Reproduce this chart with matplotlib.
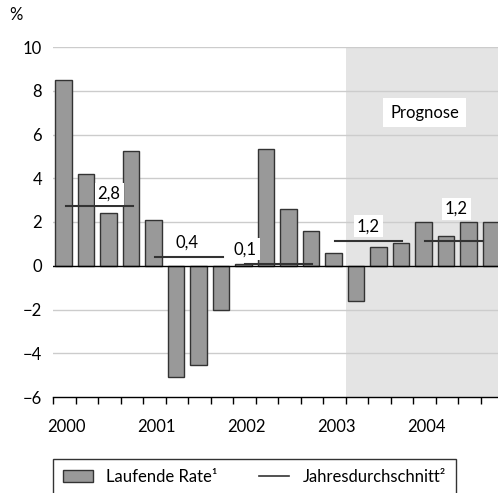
import matplotlib
matplotlib.use('Agg')
import matplotlib.pyplot as plt
from matplotlib.patches import Patch
from matplotlib.lines import Line2D
import numpy as np

plt.rcParams['font.family'] = ['Lato', 'DejaVu Sans']
plt.rcParams['font.size'] = 12

# DATA
years = ['2000', '2001', '2002', '2003', '2004']
rate = [8.5, 4.2, 2.4, 5.25, 2.1, -5.07, -4.55, -2.03, 0.1, 5.33,
        2.6, 1.57, 0.6, -1.6, 0.84, 1.05, 1.98, 1.35, 1.98, 1.98]
avg = [2.75, 0.4, 0.1, 1.15, 1.15]
avg_text = ['2,8', '0,4', '0,1', '1,2', '1,2']
avg_from = [0.55, 4.5, 8.5, 12.5, 16.5]
avg_to = [3.55, 7.55, 11.5, 15.5, 19.1]
label_x = [2.48, 5.93, 8.52, 14.0, 17.9]
label_y = [3.3, 1.05, 0.75, 1.8, 2.6]
forecast_start = 13

W, H = 498, 493
fig = plt.figure(figsize=(W / 100, H / 100), dpi=100)
ax = fig.add_axes([53.3 / W, 1 - 397 / H, 450 / W, 350 / H])

# forecast shading
ax.axvspan(forecast_start, 20, color='#e4e4e4', zorder=0, lw=0)

# grid
for g in range(-4, 11, 2):
    if g != 0:
        ax.axhline(g, color='#cccccc', lw=1, zorder=1)
ax.axhline(0, color='black', lw=1, zorder=4)

# bars
q = np.arange(len(rate))
ax.bar(q + 0.08, rate, width=0.74, align='edge', color='#999999',
       edgecolor='#333333', lw=1, zorder=3)

# yearly averages
for k in range(len(avg)):
    ax.plot([avg_from[k], avg_to[k]], [avg[k], avg[k]], color='#333333',
            lw=1.5, zorder=5)
    ax.text(label_x[k], label_y[k], avg_text[k], ha='center', va='center',
            fontsize=12, zorder=6,
            bbox=dict(boxstyle='square,pad=0.18', fc='white', ec='none'))

ax.text(16.5, 7.0, 'Prognose', ha='center', va='center', fontsize=12,
        zorder=6, bbox=dict(boxstyle='square,pad=0.4', fc='white', ec='none'))

ax.set_xlim(0, 20)
ax.set_ylim(-6, 10)

ax.set_yticks(range(-6, 11, 2))
ax.tick_params(axis='y', length=0, pad=8, labelsize=12)

ax.set_xticks(np.arange(len(years)) * 4 + 0.6)
ax.set_xticklabels(years)
ax.set_xticks(np.arange(0, 21), minor=True)
ax.tick_params(axis='x', which='major', length=0, pad=16, labelsize=12)
ax.tick_params(axis='x', which='minor', length=5, width=1, direction='out',
               color='black')

for s in ['top', 'right', 'left']:
    ax.spines[s].set_visible(False)
ax.spines['bottom'].set_color('black')
ax.spines['bottom'].set_linewidth(1)

fig.text(9 / W, 1 - 15 / H, '%', ha='left', va='center', fontsize=12)

# LEGEND
handles = [Patch(facecolor='#999999', edgecolor='#333333', lw=1),
           Line2D([0], [0], color='#333333', lw=1.2)]
leg = fig.legend(handles, ['Laufende Rate¹', 'Jahresdurchschnitt²'],
                 loc='upper left', bbox_to_anchor=(53 / W, 1 - 459 / H, 403 / W, 0),
                 mode='expand', ncol=2, frameon=True, fancybox=False,
                 edgecolor='black', fontsize=12, handlelength=1.8,
                 handletextpad=0.8, borderpad=0.6, borderaxespad=0,
                 columnspacing=3)
leg.get_frame().set_linewidth(1)

fig.savefig('out.png', dpi=100)
